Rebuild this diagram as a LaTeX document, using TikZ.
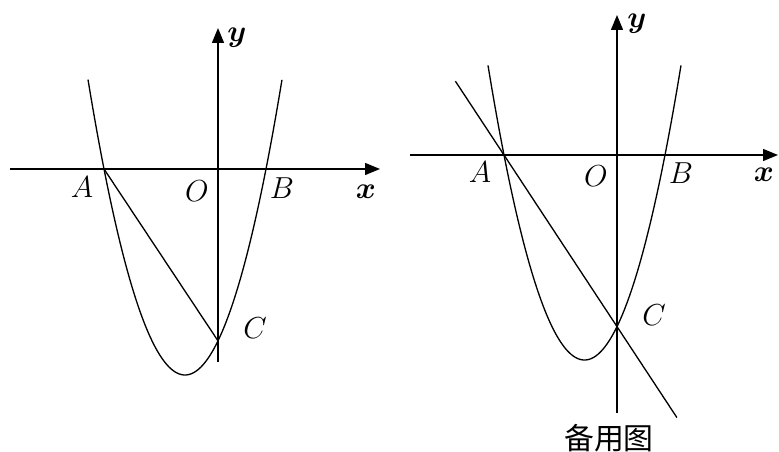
\documentclass[tikz,border=0pt]{standalone}
\usepackage{amsmath}
\usepackage{fontspec}
\newfontfamily\cjk{Noto Sans CJK SC}
\usetikzlibrary{arrows.meta,calc}
\tikzset{
  axis/.style={line width=0.8pt,-{Triangle[length=0.3cm,width=0.24cm]}},
  curve/.style={line width=0.75pt},
  lab/.style={font=\fontsize{17}{17}\selectfont,inner sep=0pt},
}
\begin{document}
\begin{tikzpicture}
\useasboundingbox (0,0) rectangle (15.58,9.04);
% figura sinistra: assi
\coordinate (O1) at (4.36,5.66);
\coordinate (A1) at (2.08,5.66);
\coordinate (B1) at (5.32,5.66);
\coordinate (C1) at (4.36,2.223);
\draw[axis] (0.2,5.66) -- (7.6,5.66);
\draw[axis] (4.36,1.8) -- (4.36,8.48);
\node[lab] (x1) at (7.32,5.2) {$\boldsymbol{x}$};
\node[lab] (y1) at (4.74,8.28) {$\boldsymbol{y}$};
% parabola e retta AC
\draw[curve,domain=1.76:5.64,samples=80,smooth] plot (\x,{5.66+1.57*(\x-2.08)*(\x-5.32)});
\draw[curve] (A1) -- (C1);
\node[lab] (lA1) at (1.64,5.3) {$A$};
\node[lab] (lO1) at (3.94,5.22) {$O$};
\node[lab] (lB1) at (5.64,5.28) {$B$};
\node[lab] (lC1) at (5.1,2.48) {$C$};
% figura destra: assi
\coordinate (O2) at (12.34,5.94);
\coordinate (A2) at (10.08,5.94);
\coordinate (B2) at (13.3,5.94);
\coordinate (C2) at (12.34,2.508);
\draw[axis] (8.2,5.94) -- (15.56,5.94);
\draw[axis] (12.34,0.78) -- (12.34,8.74);
\node[lab] (x2) at (15.28,5.54) {$\boldsymbol{x}$};
\node[lab] (y2) at (12.74,8.56) {$\boldsymbol{y}$};
% parabola e retta per A, C
\draw[curve,domain=9.76:13.62,samples=80,smooth] plot (\x,{5.94+1.582*(\x-10.08)*(\x-13.3)});
\coordinate (P2) at ($(A2)!-0.43!(C2)$);
\coordinate (Q2) at ($(A2)!1.53!(C2)$);
\draw[curve] (P2) -- (Q2);
\node[lab] (lA2) at (9.6,5.6) {$A$};
\node[lab] (lO2) at (11.92,5.52) {$O$};
\node[lab] (lB2) at (13.62,5.58) {$B$};
\node[lab] (lC2) at (13.08,2.74) {$C$};
\node[font=\cjk\fontsize{17}{17}\selectfont,inner sep=0pt] (cap) at (12.18,0.28) {备用图};
\end{tikzpicture}
\end{document}
